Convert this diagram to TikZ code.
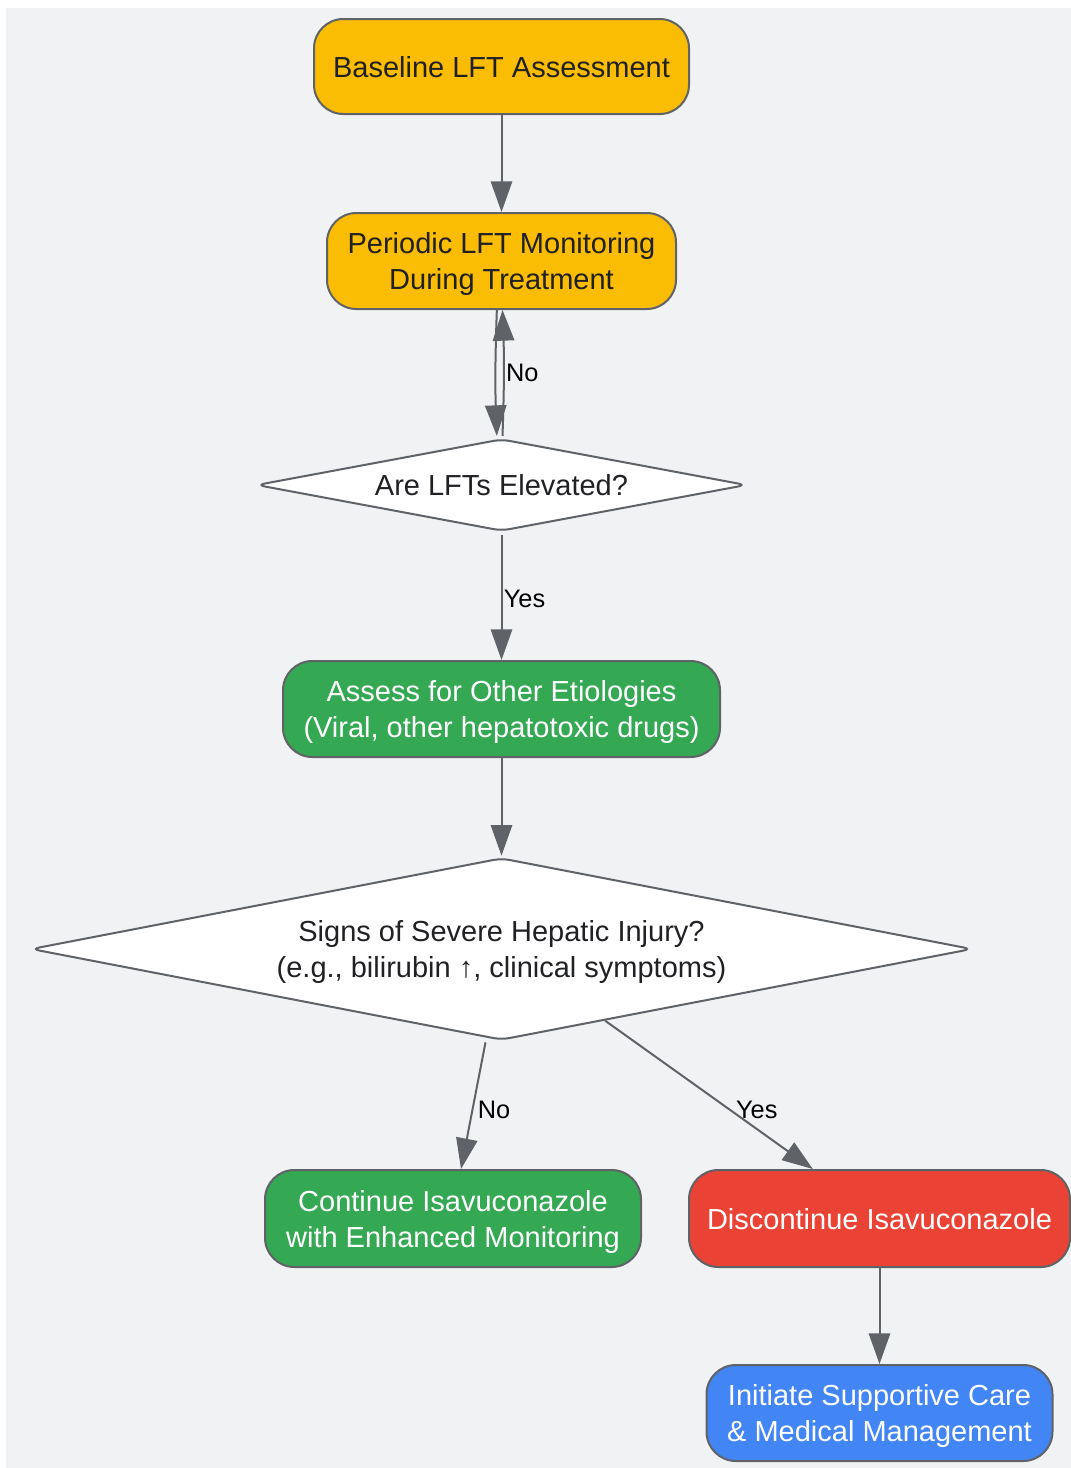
\documentclass[tikz,border=0pt]{standalone}
\usepackage{fontspec}
\setmainfont{Liberation Sans}
\usetikzlibrary{shapes.geometric,arrows.meta,calc}
\definecolor{bgc}{HTML}{F1F2F4}
\definecolor{edgec}{HTML}{5F6368}
\definecolor{txtc}{HTML}{202124}
\definecolor{yel}{HTML}{FBBC04}
\definecolor{grn}{HTML}{34A853}
\definecolor{redc}{HTML}{EA4335}
\definecolor{blu}{HTML}{4285F4}
\begin{document}
\begin{tikzpicture}[x=0.75pt,y=-0.75pt,
  box/.style={draw=edgec, line width=1.5pt, rounded corners=22pt, align=center, inner sep=0pt,
    text depth=0pt, font=\fontsize{21.75}{27}\selectfont},
  ybox/.style={box, fill=yel, text=txtc},
  gbox/.style={box, fill=grn, text=white},
  rbox/.style={box, fill=redc, text=white},
  bbox/.style={box, fill=blu, text=white},
  dec/.style={diamond, draw=edgec, fill=white, line width=1.5pt, rounded corners=6pt, inner sep=0pt},
  dtext/.style={align=center, text=txtc, inner sep=0pt, text depth=0pt, font=\fontsize{21.75}{27}\selectfont},
  arr/.style={draw=edgec, line width=1.5pt, -{Triangle[length=23pt,width=16pt]}},
  lbl/.style={font=\fontsize{19}{23}\selectfont, text=black, inner sep=0pt}]
\useasboundingbox (0,0) rectangle (1071,1468);
\fill[bgc] (6,8) rectangle (1071,1468);

\node[ybox, minimum width=281.25pt, minimum height=71.25pt] (base) at (501.5,66.5) {Baseline LFT Assessment};
\node[ybox, minimum width=261.75pt, minimum height=72pt] (per) at (501.5,261) {Periodic LFT Monitoring\\During Treatment};
\node[dec, minimum width=367.5pt, minimum height=69pt] (d1) at (501.5,485) {};
\node[dtext] at (d1) {Are LFTs Elevated?};
\node[gbox, minimum width=327.75pt, minimum height=72pt] (ass) at (501.5,709) {Assess for Other Etiologies\\(Viral, other hepatotoxic drugs)};
\node[dec, minimum width=705.75pt, minimum height=136.5pt] (d2) at (501.5,949) {};
\node[dtext] at (d2) {Signs of Severe Hepatic Injury?\\(e.g., bilirubin ↑, clinical symptoms)};
\node[gbox, minimum width=282pt, minimum height=72.75pt] (cont) at (453,1218.5) {Continue Isavuconazole\\with Enhanced Monitoring};
\node[rbox, minimum width=285.75pt, minimum height=72.75pt] (disc) at (879.5,1218.5) {Discontinue Isavuconazole};
\node[bbox, minimum width=259.5pt, minimum height=72pt] (init) at (879.5,1413) {Initiate Supportive Care\\\& Medical Management};

\draw[arr] (base.south) -- (per.north);
\draw[arr] ([xshift=-3.5pt]per.south) to[bend right=2] ([xshift=-3.5pt,yshift=1.5pt]d1.north);
\draw[arr] ([xshift=0.75pt,yshift=1.5pt]d1.north) to[bend right=2] node[lbl, anchor=west, xshift=1pt]{No} ([xshift=0.75pt]per.south);
\draw[arr] ([yshift=-2pt]d1.south) -- node[lbl, anchor=west, xshift=1pt, yshift=-1.5pt]{Yes} (ass.north);
\draw[arr] (ass.south) -- ([yshift=1pt]d2.north);
\draw[arr] ([xshift=-12pt,yshift=-1pt]d2.south) -- node[lbl, pos=0.52, anchor=west, xshift=3pt, yshift=-1.5pt]{No} ([xshift=6pt]cont.north);
\draw[arr] ($(d2.south)!0.22!(d2.east)$) -- node[lbl, pos=0.6, right=4pt]{Yes} ([xshift=-50pt]disc.north);
\draw[arr] (disc.south) -- (init.north);
\end{tikzpicture}
\end{document}
